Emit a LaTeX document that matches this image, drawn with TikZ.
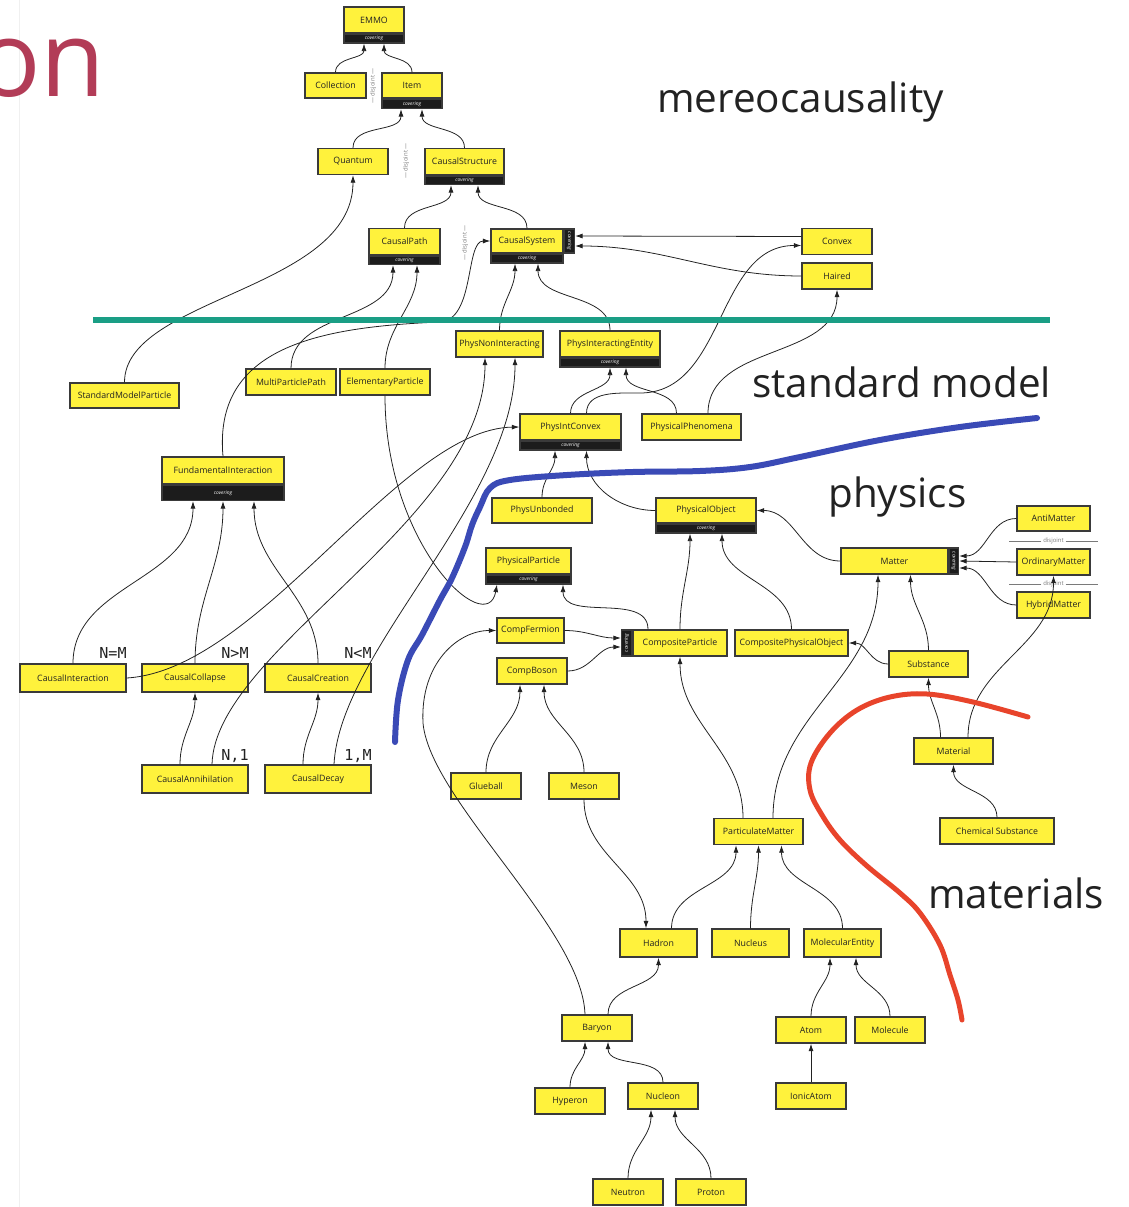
\documentclass[tikz,border=0pt]{standalone}
\usepackage{fontspec}
\setmainfont{Open Sans}
\newfontfamily\cardfont{DejaVu Sans Mono}
\usepackage{xcolor}
\definecolor{cYellow}{HTML}{FFF23C}
\definecolor{cEdge}{HTML}{3A3A3A}
\definecolor{cStrip}{HTML}{1C1C1C}
\definecolor{cLine}{HTML}{222222}
\definecolor{cText}{HTML}{222222}
\definecolor{cGrayText}{HTML}{7A7A7A}
\definecolor{cTeal}{HTML}{1A9E85}
\definecolor{cBlue}{HTML}{3A4AB6}
\definecolor{cRed}{HTML}{E8442B}
\definecolor{cTitle}{HTML}{B23C57}
\usepackage{tikz}
\usetikzlibrary{positioning,arrows.meta}
\tikzset{
  cls/.style={draw=cEdge,line width=0.8pt,fill=cYellow,minimum width=14mm,
    minimum height=5.2mm,inner sep=0pt,text=cText,
    font=\fontsize{5}{5.5}\selectfont},
  cls-cov/.style={draw=cEdge,line width=0.8pt,fill=cStrip,minimum height=1.7mm,
    inner sep=0pt,text=white,font=\fontsize{2.8}{3}\selectfont\itshape},
  cls-vcov/.style={draw=cEdge,line width=0.8pt,fill=cStrip,minimum width=2mm,
    inner sep=0pt,text=white,font=\fontsize{2.8}{3}\selectfont\itshape},
  isa/.style={-{Latex[length=1.5mm,width=1mm]},line width=0.45pt,draw=cLine},
  vcurve/.style={out=90,in=-90},
  card/.style={font=\cardfont\fontsize{8.6}{9}\selectfont,inner sep=0pt,text=cText},
  disj/.style={font=\fontsize{3.4}{4}\selectfont,text=cGrayText,inner sep=0.3mm},
  sepline/.style={draw=cGrayText,line width=0.4pt},
  area/.style={font=\fontsize{23}{26}\selectfont,inner sep=0pt,text=cText,anchor=base west},
  hl-teal/.style={draw=cTeal,line width=1mm},
  hl-blue/.style={draw=cBlue,line width=1.2mm,line cap=round,line join=round},
  hl-red/.style={draw=cRed,line width=1mm,line cap=round,line join=round},
}
\begin{document}
\begin{tikzpicture}[x=0.2mm,y=-0.2mm]
  \useasboundingbox (0,0) rectangle (1129,1207);
  \draw[gray!12,line width=0.4pt] (19,0) -- (19,1207);
  \node[font=\fontsize{60}{60}\selectfont,text=cTitle,anchor=base east,inner sep=0pt] (ttl) at (106,97) {on};
  % area labels
  \node[area] (lbl-mc)  at (657,113) {mereocausality};
  \node[area] (lbl-sm)  at (752,397) {standard model};
  \node[area] (lbl-ph)  at (828,507) {physics};
  \node[area] (lbl-mat) at (928,908) {materials};

  % mereocausality
  \node[cls,minimum width=12mm] (emmo) at (374,20) {EMMO};
  \node[cls-cov,minimum width=12mm,below=0pt of emmo] (emmo-c) {covering};
  \node[cls,minimum width=12.2mm,minimum height=5mm] (coll) at (335.5,85.5) {Collection};
  \node[cls,minimum width=12mm,minimum height=5mm] (item) at (412,85.5) {Item};
  \node[cls-cov,minimum width=12mm,minimum height=1.8mm,below=0pt of item] (item-c) {covering};
  \node[disj,rotate=90] (dj-a) at (373,86) {— disjoint —};
  \node[cls] (quant) at (353,161.5) {Quantum};
  \node[cls,minimum width=15.8mm] (cstruct) at (464.5,161.5) {CausalStructure};
  \node[cls-cov,minimum width=15.8mm,below=0pt of cstruct] (cstruct-c) {covering};
  \node[disj,rotate=90] (dj-b) at (406,161) {— disjoint —};
  \node[cls,minimum width=14.2mm] (cpath) at (404.5,241.5) {CausalPath};
  \node[cls-cov,minimum width=14.2mm,below=0pt of cpath] (cpath-c) {covering};
  \node[cls,minimum width=14.4mm,minimum height=4.8mm] (csys) at (527,241) {CausalSystem};
  \node[cls-cov,minimum width=14.4mm,below=0pt of csys] (csys-c) {covering};
  \node[cls-vcov,minimum height=4.8mm,right=0pt of csys] (csys-r) {\rotatebox{-90}{covering}};
  \node[disj,rotate=90] (dj-c) at (465,243) {— disjoint —};
  \node[cls] (convex) at (837,241.5) {Convex};
  \node[cls] (haired) at (837,276) {Haired};

  % standard model
  \node[cls,minimum width=21.8mm,minimum height=5mm] (smp) at (124.5,395.5) {StandardModelParticle};
  \node[cls,minimum width=18mm] (mpp) at (291,382) {MultiParticlePath};
  \node[cls,minimum width=18mm] (ep) at (385,382) {ElementaryParticle};
  \node[cls,minimum width=17.4mm] (pni) at (499.5,344) {PhysNonInteracting};
  \node[cls,minimum width=20mm] (pie) at (610,344) {PhysInteractingEntity};
  \node[cls-cov,minimum width=20mm,below=0pt of pie] (pie-c) {covering};
  \node[cls,minimum width=20.2mm] (pic) at (570.5,427) {PhysIntConvex};
  \node[cls-cov,minimum width=20.2mm,below=0pt of pic] (pic-c) {covering};
  \node[cls,minimum width=19.8mm] (pphen) at (691.5,427) {PhysicalPhenomena};
  \node[cls,minimum width=24.4mm,minimum height=5.4mm] (fi) at (223,470.5) {FundamentalInteraction};
  \node[cls-cov,minimum width=24.4mm,minimum height=3mm,below=0pt of fi] (fi-c) {covering};
  \node[cls,minimum width=21.2mm,minimum height=5.6mm] (cint) at (73,678) {CausalInteraction};
  \node[cls,minimum width=21.2mm,minimum height=5.6mm] (ccol) at (195,678) {CausalCollapse};
  \node[cls,minimum width=21.2mm,minimum height=5.6mm] (ccre) at (318,678) {CausalCreation};
  \node[cls,minimum width=21.2mm,minimum height=5.6mm] (cann) at (195,779) {CausalAnnihilation};
  \node[cls,minimum width=21.2mm,minimum height=5.6mm] (cdec) at (318,779) {CausalDecay};
  \node[card,anchor=base east] (n-eq) at (127,658) {N=M};
  \node[card,anchor=base east] (n-gt) at (249,658) {N>M};
  \node[card,anchor=base east] (n-lt) at (372,658) {N<M};
  \node[card,anchor=base east] (n-one) at (249,760) {N,1};
  \node[card,anchor=base east] (one-m) at (372,760) {1,M};

  % physics
  \node[cls,minimum width=20mm,minimum height=5mm] (punb) at (542,510.5) {PhysUnbonded};
  \node[cls,minimum width=20mm,minimum height=5mm] (pobj) at (706,510.5) {PhysicalObject};
  \node[cls-cov,minimum width=20mm,below=0pt of pobj] (pobj-c) {covering};
  \node[cls,minimum width=21.4mm] (matter) at (894.5,561) {Matter};
  \node[cls-vcov,minimum height=5.2mm,minimum width=1.8mm,right=0pt of matter] (matter-r) {\rotatebox{-90}{covering}};
  \node[cls,minimum width=14.6mm,minimum height=5mm] (antim) at (1053.5,518.5) {AntiMatter};
  \node[cls,minimum width=14.6mm] (ordm) at (1053.5,562) {OrdinaryMatter};
  \node[cls,minimum width=14.6mm] (hybm) at (1053.5,605) {HybridMatter};
  \node[disj,fill=white] (dj-d) at (1053.5,541) {disjoint};
  \node[disj,fill=white] (dj-e) at (1053.5,584) {disjoint};
  \node[cls,minimum width=17mm] (ppart) at (528.5,561) {PhysicalParticle};
  \node[cls-cov,minimum width=17mm,below=0pt of ppart] (ppart-c) {covering};
  \node[cls,minimum width=13.4mm,minimum height=5mm] (cferm) at (530.5,630.5) {CompFermion};
  \node[cls] (cbos) at (532,671) {CompBoson};
  \node[cls,minimum width=18.8mm] (cpart) at (680,643) {CompositeParticle};
  \node[cls-vcov,minimum height=5.2mm,left=0pt of cpart] (cpart-l) {\rotatebox{90}{covering}};
  \node[cls,minimum width=22.6mm] (cpobj) at (791.5,643) {CompositePhysicalObject};
  \node[cls,minimum width=15.8mm] (subst) at (928.5,664) {Substance};
  \node[cls] (glue) at (486,786) {Glueball};
  \node[cls] (meson) at (584,786) {Meson};
  \node[cls,minimum width=17.8mm] (pmat) at (758.5,831.5) {ParticulateMatter};
  \node[cls,minimum width=15.4mm,minimum height=5.6mm] (hadron) at (658.5,943) {Hadron};
  \node[cls,minimum width=15.4mm,minimum height=5.6mm] (nucleus) at (750.5,943) {Nucleus};
  \node[cls,minimum width=15.4mm,minimum height=5.6mm] (molent) at (842.5,943) {MolecularEntity};
  \node[cls] (baryon) at (597,1028) {Baryon};
  \node[cls] (atom) at (811,1030) {Atom};
  \node[cls] (molec) at (890,1030) {Molecule};
  \node[cls] (hyper) at (570,1101) {Hyperon};
  \node[cls] (nucleon) at (663,1096) {Nucleon};
  \node[cls] (ionic) at (811,1096) {IonicAtom};
  \node[cls] (neutron) at (628,1192) {Neutron};
  \node[cls] (proton) at (711,1192) {Proton};

  % materials
  \node[cls,minimum width=15.8mm] (matl) at (953.5,751) {Material};
  \node[cls,minimum width=22.8mm] (chem) at (997,831) {Chemical Substance};

  \draw[sepline] (dj-d.west) -- ++(-32,0);
  \draw[sepline] (dj-d.east) -- ++(32,0);
  \draw[sepline] (dj-e.west) -- ++(-32,0);
  \draw[sepline] (dj-e.east) -- ++(32,0);

  % is-a links
  \draw[isa] (coll.north) to[vcurve] ([xshift=-2mm]emmo-c.south);
  \draw[isa] (item.north) to[vcurve] ([xshift=2mm]emmo-c.south);
  \draw[isa] (quant.north) to[vcurve] ([xshift=-2.2mm]item-c.south);
  \draw[isa] (cstruct.north) to[vcurve] ([xshift=2mm]item-c.south);
  \draw[isa] (cpath.north) to[vcurve] ([xshift=-2.7mm]cstruct-c.south);
  \draw[isa] (csys.north) to[vcurve] ([xshift=2.7mm]cstruct-c.south);
  \draw[isa] (smp.north) .. controls +(0,-85) and +(0,115) .. (quant.south);
  \draw[isa] (mpp.north) to[vcurve] ([xshift=-2.3mm]cpath-c.south);
  \draw[isa] (ep.north) to[vcurve] ([xshift=2.5mm]cpath-c.south);
  \draw[isa] (ep.south) .. controls +(0,150) and +(-10,55) .. ([xshift=-6.3mm]ppart-c.south);
  \draw[isa] (fi.north) .. controls +(-10,-110) and +(-120,5) .. (440,322)
    .. controls +(35,-2) and +(-25,0) .. (csys.west);
  \draw[isa] (pni.north) to[vcurve] ([xshift=-2.4mm]csys-c.south);
  \draw[isa] (pie.north) to[vcurve] ([xshift=2.2mm]csys-c.south);
  \draw[isa] ([yshift=1mm]convex.west) -- ([yshift=1mm]csys-r.east);
  \draw[isa] (haired.west) to[out=180,in=0] ([yshift=-1mm]csys-r.east);
  \draw[isa] ([xshift=3.2mm]pic.north) to[out=90,in=180] (640,393)
    to[out=0,in=180] ([yshift=-0.8mm]convex.west);
  \draw[isa] (pic.north) to[vcurve] (pie-c.south);
  \draw[isa] ([xshift=-3mm]pphen.north) to[vcurve] ([xshift=3.2mm]pie-c.south);
  \draw[isa] ([xshift=3.3mm]pphen.north) to[vcurve] (haired.south);
  \draw[isa] (cint.north) to[vcurve] ([xshift=-6mm]fi-c.south);
  \draw[isa] (ccol.north) to[vcurve] (fi-c.south);
  \draw[isa] (ccre.north) to[vcurve] ([xshift=6.2mm]fi-c.south);
  \draw[isa] ([xshift=-3mm]cann.north) to[vcurve] (ccol.south);
  \draw[isa] ([xshift=-3mm]cdec.north) to[vcurve] (ccre.south);
  \draw[isa] (cint.east) .. controls +(133,-8) and +(-120,2) .. (pic.west);
  \draw[isa] ([xshift=3.4mm]cann.north) .. controls +(3,-115) and +(0,163) .. ([xshift=-2.9mm]pni.south);
  \draw[isa] ([xshift=3.2mm]cdec.north) .. controls +(6,-115) and +(0,143) .. ([xshift=3.1mm]pni.south);
  \draw[isa] (punb.north) to[vcurve] ([xshift=-3.1mm]pic-c.south);
  \draw[isa] (pobj.west) to[out=180,in=-90] ([xshift=3.2mm]pic-c.south);
  \draw[isa] (matter.west) to[out=180,in=0] (pobj.east);
  \draw[isa] (antim.west) to[out=180,in=0] ([yshift=1mm]matter-r.east);
  \draw[isa] (ordm.west) -- (matter-r.east);
  \draw[isa] (hybm.west) to[out=180,in=0] ([yshift=-1.4mm]matter-r.east);
  \draw[isa] ([xshift=-6.4mm]cpart.north) to[vcurve] ([xshift=6.9mm]ppart-c.south);
  \draw[isa] (cpart.north) to[vcurve] ([xshift=-3.2mm]pobj-c.south);
  \draw[isa] (cpobj.north) to[vcurve] ([xshift=3.2mm]pobj-c.south);
  \draw[isa] (cferm.east) to[out=0,in=180] ([yshift=1mm]cpart-l.west);
  \draw[isa] (cbos.east) to[out=0,in=180] ([yshift=-0.8mm]cpart-l.west);
  \draw[isa] (subst.west) to[out=180,in=0] (cpobj.east);
  \draw[isa] (subst.north) to[vcurve] ([xshift=3.2mm]matter.south);
  \draw[isa] ([xshift=2.9mm]pmat.north) to[vcurve] ([xshift=-3.3mm]matter.south);
  \draw[isa] ([xshift=-3.1mm]pmat.north) to[vcurve] (cpart.south);
  \draw[isa] ([xshift=-2.6mm]matl.north) to[vcurve] (subst.south);
  \draw[isa] ([xshift=2.9mm]matl.north) to[vcurve] (ordm.south);
  \draw[isa] (chem.north) to[vcurve] (matl.south);
  \draw[isa] (glue.north) to[vcurve] ([xshift=-2.4mm]cbos.south);
  \draw[isa] (meson.north) to[vcurve] ([xshift=2.4mm]cbos.south);
  \draw[isa] (meson.south) to[out=-90,in=90] ([xshift=-2.5mm]hadron.north);
  \draw[isa] ([xshift=2.6mm]hadron.north) to[vcurve] ([xshift=-4.5mm]pmat.south);
  \draw[isa] (nucleus.north) to[vcurve] (pmat.south);
  \draw[isa] (molent.north) to[vcurve] ([xshift=4.6mm]pmat.south);
  \draw[isa] ([xshift=-2.4mm]baryon.north) .. controls +(-3,-85) and +(7,77) .. (423,723)
    .. controls +(-3,-60) and +(-38,0) .. (cferm.west);
  \draw[isa] ([xshift=2.2mm]baryon.north) to[vcurve] (hadron.south);
  \draw[isa] (hyper.north) to[vcurve] ([xshift=-2.4mm]baryon.south);
  \draw[isa] (nucleon.north) to[vcurve] ([xshift=2.2mm]baryon.south);
  \draw[isa] (neutron.north) to[vcurve] ([xshift=-2.4mm]nucleon.south);
  \draw[isa] (proton.north) to[vcurve] ([xshift=2.4mm]nucleon.south);
  \draw[isa] (atom.north) to[vcurve] ([xshift=-2.5mm]molent.south);
  \draw[isa] (molec.north) to[vcurve] ([xshift=2.7mm]molent.south);
  \draw[isa] (ionic.north) -- (atom.south);

  % hand-drawn borders
  \draw[hl-teal] (93,320) -- (1050,320);
  \draw[hl-blue] plot[smooth,tension=0.6] coordinates {(395,742) (398,700) (408,660)
    (422,635) (440,600) (452,578) (465,547) (472,525) (480,507) (490,488) (510,480)
    (567,475) (633,472) (700,471) (750,467) (800,457) (880,440) (960,427) (1037,418)};
  \draw[hl-red] plot[smooth,tension=0.6] coordinates {(962,1020) (958,1000) (950,975)
    (940,945) (920,913) (900,893) (867,866) (840,840) (822,815) (810,790) (811,763)
    (830,733) (857,710) (890,697) (927,694) (973,702) (1028,717)};
\end{tikzpicture}
\end{document}
